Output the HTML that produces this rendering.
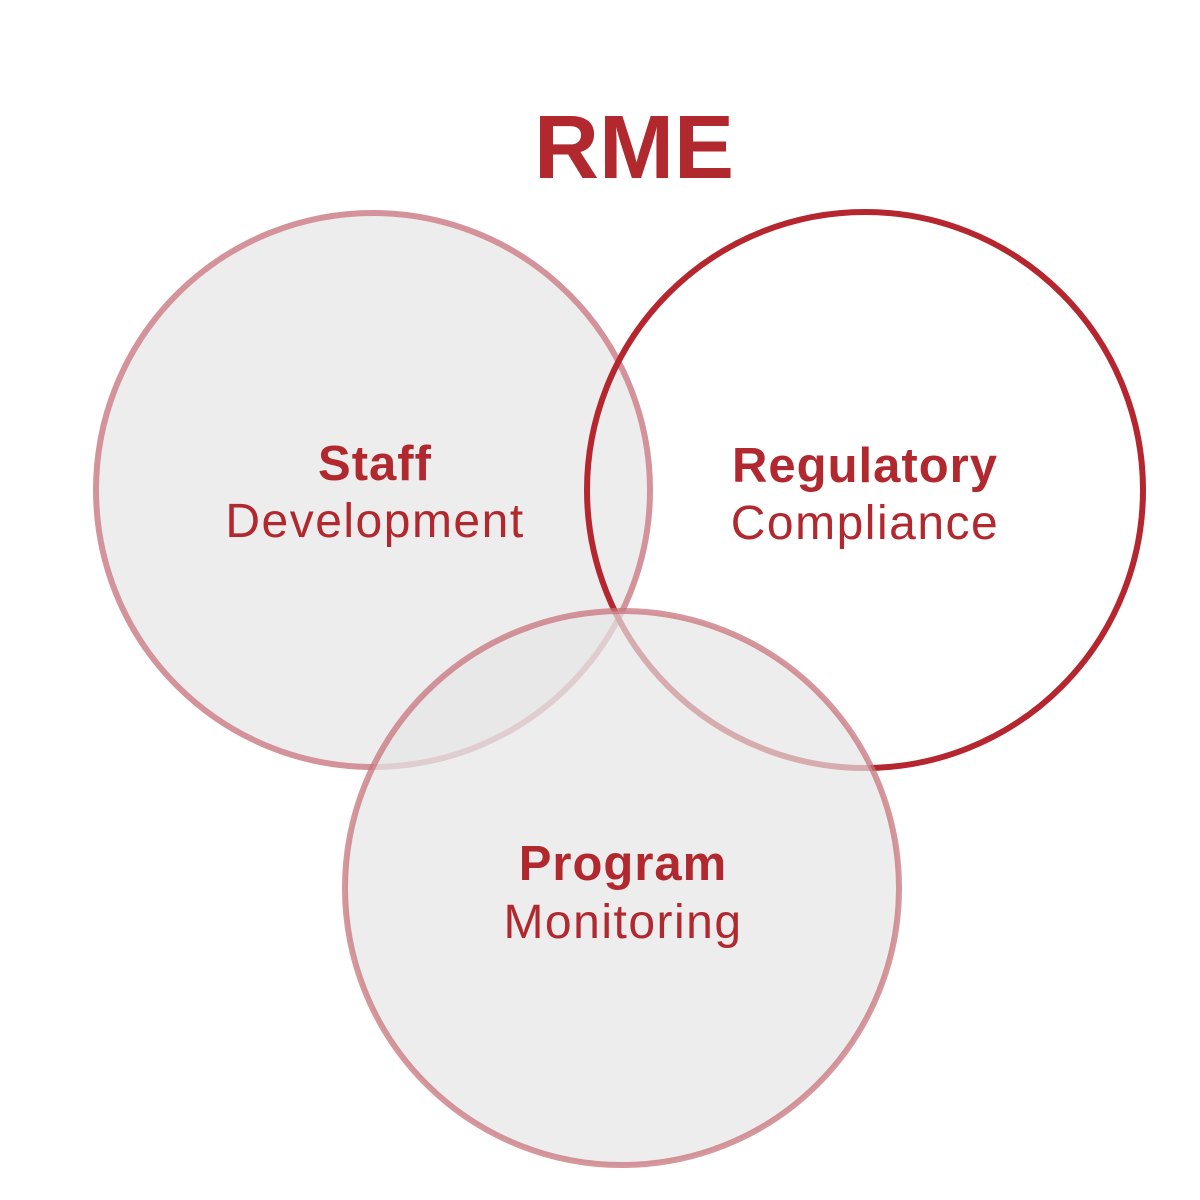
<!DOCTYPE html>
<html><head><style>
html,body{margin:0;padding:0;background:#fff;}
svg{display:block;}
text{font-family:"Liberation Sans",Arial,sans-serif;fill:#b1282f;text-anchor:middle;}
.b{font-weight:bold;}
</style></head><body>
<svg width="1200" height="1200" viewBox="0 0 1200 1200">
<text x="634" y="178" class="b" font-size="90">RME</text>
<circle cx="373" cy="490" r="277" fill="#ededed" stroke="#d4939a" stroke-width="6"/>
<circle cx="865" cy="490" r="278" fill="none" stroke="#b5262e" stroke-width="6"/>
<circle cx="622" cy="888" r="277" fill="rgb(229,229,231)" fill-opacity="0.7" stroke="#c7737b" stroke-opacity="0.75" stroke-width="6"/>
<text x="375" y="480" class="b" font-size="49" letter-spacing="1">Staff</text>
<text x="375" y="537" font-size="48" letter-spacing="1.5">Development</text>
<text x="865" y="482" class="b" font-size="49" letter-spacing="1">Regulatory</text>
<text x="865" y="539" font-size="48" letter-spacing="1.5">Compliance</text>
<text x="623" y="880" class="b" font-size="49" letter-spacing="1">Program</text>
<text x="623" y="938" font-size="48" letter-spacing="1.5">Monitoring</text>
</svg>
</body></html>
